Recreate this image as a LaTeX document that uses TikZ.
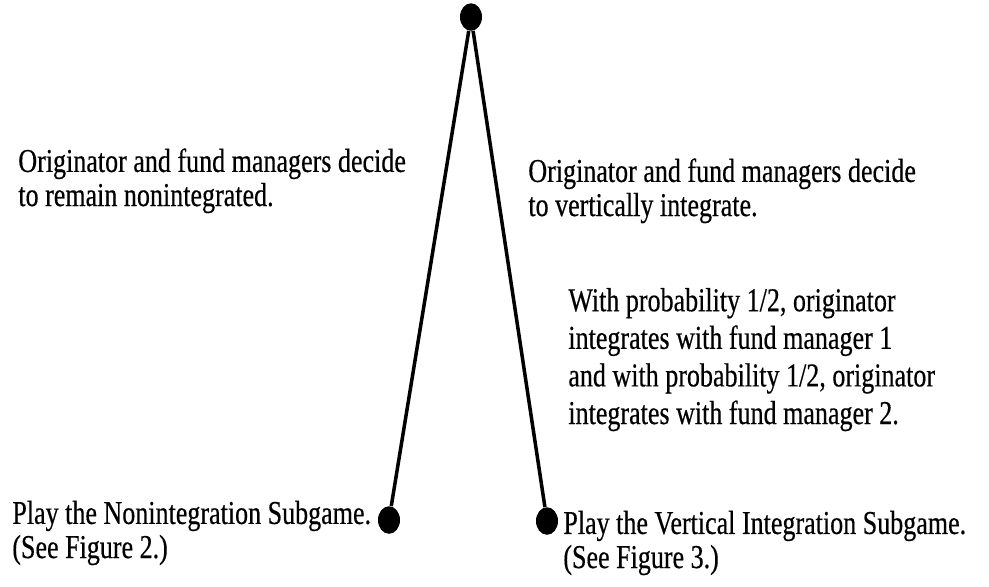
\documentclass[tikz,border=0pt]{standalone}
\usepackage{fontspec}
\setmainfont{Liberation Serif}[FakeStretch=0.78, FakeBold=0.4]
\usepackage{tikz}
\usetikzlibrary{shapes.geometric}

\begin{document}
\begin{tikzpicture}[
  x=0.02cm, y=-0.02cm,
  dot/.style={ellipse, fill=black, inner sep=0pt,
              minimum width=0.44cm, minimum height=0.55cm},
  move/.style={line width=2pt},
  lbl/.style={anchor=base west, inner sep=0pt, align=left,
              font=\fontsize{19}{19.4}\selectfont}
]
\useasboundingbox (0,0) rectangle (989,586);
% game tree
\node[dot] (root) at (471,17) {};
\node[dot] (nonint) at (389,520) {};
\node[dot] (vertint) at (547,521) {};
\draw[move] (root) -- (nonint);
\draw[move] (root) -- (vertint);
% labels (anchored on the baseline of the last line)
\node[lbl] (remain) at (18,206) {Originator and fund managers decide\\to remain nonintegrated.};
\node[lbl] (integr) at (528,216) {Originator and fund managers decide\\to vertically integrate.};
\node[lbl, font=\fontsize{19}{21.4}\selectfont] (prob) at (568,424)
  {With probability 1/2, originator\\integrates with fund manager 1\\and with probability 1/2, originator\\integrates with fund manager 2.};
\node[lbl] (nisub) at (12,558) {Play the Nonintegration Subgame.\\(See Figure 2.)};
\node[lbl] (visub) at (563,568) {Play the Vertical Integration Subgame.\\(See Figure 3.)};
\end{tikzpicture}
\end{document}
